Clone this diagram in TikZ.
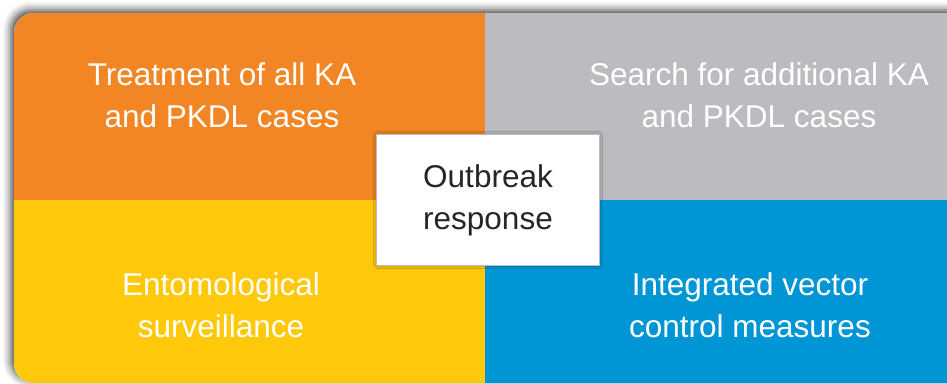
\documentclass[tikz,border=0pt]{standalone}
\usepackage{fontspec}
\setmainfont{Liberation Sans}
\usetikzlibrary{shadows.blur}

\begin{document}
\begin{tikzpicture}[
        x=1pt, y=-1pt,
        quad_text/.style={text=white, align=center, font=\fontsize{31.5}{42}\selectfont, inner sep=0pt},
        center_box/.style={draw=black!25, line width=0.4pt, fill=white, minimum width=223pt, minimum height=131pt,
            align=center, font=\fontsize{31.5}{42}\selectfont, text=black!85,
            blur shadow={shadow xshift=0pt, shadow yshift=0pt, shadow blur radius=3pt, shadow opacity=45}}
    ]
    \definecolor{kaorange}{HTML}{F28524}
    \definecolor{kagray}{HTML}{BBBCBF}
    \definecolor{kayellow}{HTML}{FFC80A}
    \definecolor{kablue}{HTML}{0096D6}

    \useasboundingbox (0,0) rectangle (947,383);

    % --- Panel with shadow ---
    \fill[white, blur shadow={shadow xshift=-3pt, shadow yshift=3pt, shadow blur radius=8pt, shadow opacity=75}]
        [rounded corners=20pt] (980,13) -- (14,13) -- (14,383) -- (980,383) -- cycle;

    \begin{scope}
        \clip[rounded corners=20pt] (980,13) -- (14,13) -- (14,383) -- (980,383) -- cycle;
        % Quadrants
        \fill[kaorange] (14,13) rectangle (485,200);
        \fill[kagray] (485,13) rectangle (980,200);
        \fill[kayellow] (14,200) rectangle (485,390);
        \fill[kablue] (485,200) rectangle (980,390);
    \end{scope}

    % --- Quadrant labels ---
    \node[quad_text] (treat) at (222,95) {Treatment of all KA\\and PKDL cases};
    \node[quad_text] (search) at (759,95) {Search for additional KA\\and PKDL cases};
    \node[quad_text] (ento) at (221,305) {Entomological\\surveillance};
    \node[quad_text] (vector) at (750,305) {Integrated vector\\control measures};

    % --- Centre box ---
    \node[center_box] (outbreak) at (488,200) {Outbreak\\response};

\end{tikzpicture}
\end{document}
